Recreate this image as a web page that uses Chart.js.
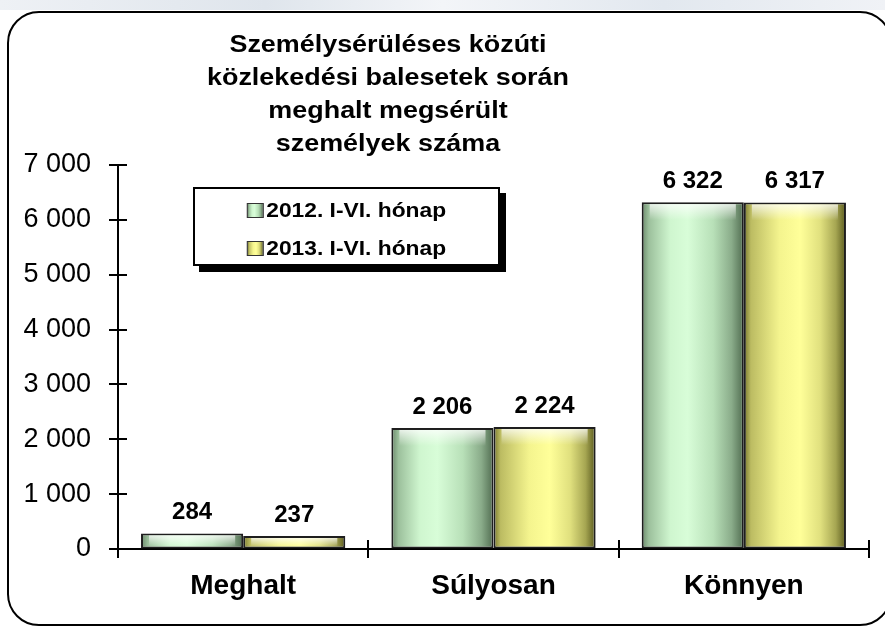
<!DOCTYPE html>
<html>
<head>
<meta charset="utf-8">
<script src="https://cdn.jsdelivr.net/npm/chart.js@4/dist/chart.umd.min.js"></script>
<style>
  body { margin: 0; background: #fff; font-family: "Liberation Sans", Arial, sans-serif; }
  #wrap { position: relative; width: 885px; height: 627px; overflow: hidden; background: #fff; }
  #strip { position: absolute; left: 0; top: 0; width: 885px; height: 10px;
           background: linear-gradient(90deg, #eef1f5, #dfe5ec 30%, #f3f5f8 50%, #e2e8ef 75%, #f0f2f6); }
  #frame { position: absolute; left: 7px; top: 11px; width: 885px; height: 615px;
           border: 2px solid #000; border-radius: 32px; box-sizing: border-box; }
  #chart { position: absolute; left: 0; top: 0; }
  #title { position: absolute; left: 0; top: 28px; width: 776px; text-align: center;
           font-weight: bold; font-size: 23px; line-height: 33px; color: #000;
           transform: scaleX(1.17); transform-origin: 388px 0; }
  #legend { position: absolute; left: 193px; top: 187px; width: 307px; height: 79px;
            box-sizing: border-box; border: 2px solid #000; background: #fff;
            box-shadow: 6px 6px 0 #000; padding-top: 2px; }
  #legend .row { height: 38px; line-height: 38px; text-align: center; font-weight: bold;
                 font-size: 20px; color: #000; transform: scaleX(1.14); }
  #legend .sw { display: inline-block; width: 13px; height: 13px; border: 1px solid #333;
                margin-right: 2px; vertical-align: -1px; }
</style>
</head>
<body>
<div id="wrap">
  <div id="strip"></div>
  <div id="frame"></div>
  <canvas id="chart" width="885" height="627"></canvas>
  <div id="title"></div>
  <div id="legend"></div>
</div>
<script>
const titleLines = ['Személysérüléses közúti', 'közlekedési balesetek során', 'meghalt megsérült', 'személyek száma'];
const categories = ['Meghalt', 'Súlyosan', 'Könnyen'];
const seriesNames = ['2012. I-VI. hónap', '2013. I-VI. hónap'];
const values2012 = [284, 2206, 6322];
const values2013 = [237, 2224, 6317];
const yTicks = [0, 1000, 2000, 3000, 4000, 5000, 6000, 7000];

// gradient stops across each bar, left to right
const shades = [
  [[0, '#6a886a'], [0.07, '#9cc09c'], [0.28, '#cff6cf'], [0.45, '#d8fdd8'], [0.7, '#b8e0b8'], [0.88, '#8aac8a'], [1, '#506c50']],
  [[0, '#78782e'], [0.07, '#bcbc62'], [0.35, '#f4f48e'], [0.55, '#ffff99'], [0.75, '#e0e07e'], [0.9, '#a6a652'], [1, '#5a5a1e']]
];
const font = '"Liberation Sans", Arial, sans-serif';

function fmt(v) {
  return String(v).replace(/\B(?=(\d{3})+(?!\d))/g, ' ');
}

function cssGradient(stops) {
  return 'linear-gradient(90deg, ' + stops.map(s => s[1] + ' ' + (s[0] * 100) + '%').join(', ') + ')';
}

// the axis ticks cross the axis lines in the original: draw both halves here
function drawTicks(chart) {
  const ctx = chart.ctx;
  const xs = chart.scales.x, ys = chart.scales.y;
  const area = chart.chartArea;
  ctx.save();
  ctx.strokeStyle = '#000';
  ctx.lineWidth = 2;
  ctx.beginPath();
  yTicks.forEach(v => {
    const py = Math.round(ys.getPixelForValue(v));
    ctx.moveTo(area.left - 9, py);
    ctx.lineTo(area.left + 9, py);
  });
  for (let i = 0; i <= categories.length; i++) {
    const px = Math.round(xs.getPixelForValue(i - 0.5));
    ctx.moveTo(px, area.bottom + 9);
    ctx.lineTo(px, area.bottom - 9);
  }
  ctx.stroke();
  ctx.restore();
}

const barShade = {
  id: 'barShade',
  beforeDatasetsDraw(chart) {
    const ctx = chart.ctx;
    chart.data.datasets.forEach((ds, i) => {
      chart.getDatasetMeta(i).data.forEach(bar => {
        const p = bar.getProps(['x', 'width'], true);
        const g = ctx.createLinearGradient(p.x - p.width / 2, 0, p.x + p.width / 2, 0);
        shades[i].forEach(s => g.addColorStop(s[0], s[1]));
        bar.options = Object.assign({}, bar.options, { backgroundColor: g });
      });
    });
  },
  afterDatasetsDraw(chart) {
    const ctx = chart.ctx;
    ctx.save();
    chart.data.datasets.forEach((ds, i) => {
      chart.getDatasetMeta(i).data.forEach((bar, j) => {
        const p = bar.getProps(['x', 'y', 'width', 'base'], true);
        const h = Math.min(16, p.base - p.y - 4);
        if (h > 4) {
          const g = ctx.createLinearGradient(0, p.y + 2, 0, p.y + 2 + h);
          g.addColorStop(0, 'rgba(255,255,255,0.75)');
          g.addColorStop(1, 'rgba(255,255,255,0)');
          ctx.fillStyle = g;
          ctx.fillRect(p.x - p.width / 2 + 8, p.y + 2, p.width - 16, h);
        }
        // value label
        ctx.fillStyle = '#000';
        ctx.font = 'bold 24px ' + font;
        ctx.textAlign = 'center';
        ctx.textBaseline = 'alphabetic';
        ctx.fillText(fmt(ds.data[j]), p.x, p.y - 14);
      });
    });
    ctx.restore();
    drawTicks(chart);
  }
};

document.getElementById('title').innerHTML = titleLines.join('<br>');

const chart = new Chart(document.getElementById('chart'), {
  type: 'bar',
  data: {
    labels: categories,
    datasets: [
      { label: seriesNames[0], data: values2012, borderColor: '#1e1e1e', backgroundColor: '#c8f0c8' },
      { label: seriesNames[1], data: values2013, borderColor: '#1e1e1e', backgroundColor: '#ffff99' }
    ]
  },
  options: {
    responsive: false,
    animation: false,
    layout: { padding: { left: 0, top: 165, right: 16, bottom: 0 } },
    datasets: {
      bar: {
        categoryPercentage: 0.816,
        barPercentage: 1,
        borderWidth: 2,
        borderSkipped: false
      }
    },
    plugins: {
      colors: { enabled: false },
      legend: { display: false },
      title: { display: false },
      tooltip: { enabled: false }
    },
    scales: {
      x: {
        grid: { drawOnChartArea: false, drawTicks: false },
        border: { color: '#000', width: 2 },
        ticks: { color: '#000', font: { family: font, size: 28, weight: 'bold' }, padding: 20 },
        afterFit(scale) { scale.height = 78; }
      },
      y: {
        min: yTicks[0],
        max: yTicks[yTicks.length - 1],
        afterBuildTicks(scale) { scale.ticks = yTicks.map(v => ({ value: v })); },
        grid: { drawOnChartArea: false, drawTicks: false },
        border: { color: '#000', width: 2 },
        ticks: { color: '#000', font: { family: font, size: 27 }, padding: 27, callback: v => fmt(v) },
        afterFit(scale) { scale.width = 118; }
      }
    }
  },
  plugins: [barShade]
});

// legend box inside the plot, built from the chart's datasets
const legend = document.getElementById('legend');
chart.data.datasets.forEach((ds, i) => {
  const row = document.createElement('div');
  row.className = 'row';
  row.innerHTML = '<span class="sw" style="background:' + cssGradient(shades[i]) + '"></span>' + ds.label;
  legend.appendChild(row);
});
</script>
</body>
</html>
